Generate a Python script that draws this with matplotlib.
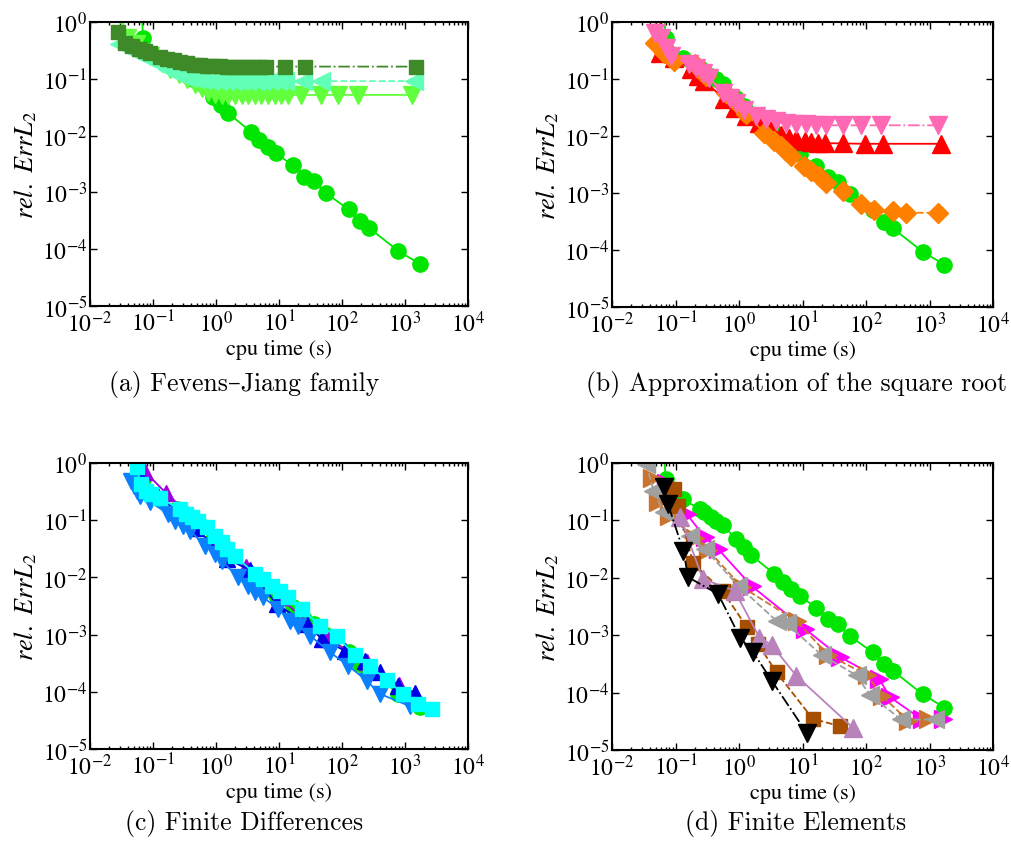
import matplotlib
matplotlib.use("Agg")
import matplotlib.pyplot as plt
from matplotlib.ticker import LogLocator, NullLocator

plt.rcParams["font.family"] = "STIXGeneral"
plt.rcParams["mathtext.fontset"] = "stix"

# ---- data (cpu time in s, relative L2 error) ----
# reference solution (green circles), shown in every panel
ref_t = [0.066, 0.070, 0.130, 0.239, 0.286, 0.365, 0.437, 0.556, 0.90, 1.22, 1.56, 3.62, 4.9,
         6.6, 9.0, 16.4, 25, 36, 55, 128, 195, 265, 785, 1720]
ref_err = [1.5, 0.53, 0.235, 0.158, 0.138, 0.113, 0.099, 0.083, 0.047, 0.034, 0.0248, 0.0116, 0.0083,
           0.0063, 0.0049, 0.0030, 0.0019, 0.00156, 0.00098, 0.0005, 0.00031, 0.00024, 9.3e-5, 5.5e-5]

# (a) Fevens-Jiang family
fj_sq_t = [0.028, 0.0366, 0.047, 0.059, 0.076, 0.091, 0.13, 0.166, 0.212, 0.27, 0.344, 0.44, 0.56,
           0.71, 0.91, 1.16, 1.47, 1.88, 2.39, 3.05, 3.88, 4.95, 6.3, 12.3, 25.4, 1470]
fj_sq_err = [0.667, 0.434, 0.38, 0.33, 0.31, 0.29, 0.246, 0.227, 0.212, 0.198, 0.188, 0.178, 0.173,
             0.169, 0.167, 0.165, 0.164, 0.164, 0.164, 0.164, 0.164, 0.164, 0.164, 0.164, 0.164, 0.164]
fj_lt_t = [0.0287, 0.0413, 0.056, 0.080, 0.123, 0.166, 0.225, 0.287, 0.366, 0.466, 0.59, 0.80, 1.09,
           1.39, 1.88, 2.39, 3.05, 4.13, 5.26, 7.1, 9.6, 12.3, 23.9, 46.6, 1390]
fj_lt_err = [0.405, 0.33, 0.29, 0.236, 0.18, 0.148, 0.129, 0.113, 0.103, 0.098, 0.096, 0.093, 0.092,
             0.091, 0.091, 0.091, 0.091, 0.091, 0.091, 0.091, 0.091, 0.091, 0.091, 0.091, 0.091]
fj_dt_t = [0.030, 0.039, 0.053, 0.091, 0.139, 0.188, 0.254, 0.344, 0.466, 0.59, 0.76, 0.96, 1.23, 1.57,
           2.0, 2.54, 3.24, 4.13, 5.26, 6.7, 8.5, 10.9, 13.9, 22.5, 46.6, 85, 177, 1306]
fj_dt_err = [1.4, 0.53, 0.405, 0.253, 0.193, 0.148, 0.12, 0.098, 0.080, 0.0675, 0.059, 0.0537, 0.052, 0.052,
             0.052, 0.052, 0.052, 0.052, 0.052, 0.052, 0.052, 0.052, 0.052, 0.052, 0.052, 0.052, 0.052, 0.052]

# (b) approximation of the square root
sr_red_t = [0.058, 0.056, 0.096, 0.177, 0.225, 0.286, 0.59, 0.85, 1.3, 2.1, 3.2, 4.6, 6.2, 7.9, 10.8,
            13.7, 17.4, 22.3, 43, 95, 184, 1510]
sr_red_err = [1.5, 0.29, 0.236, 0.148, 0.113, 0.092, 0.044, 0.031, 0.0223, 0.017, 0.013, 0.0106, 0.0093,
              0.0087, 0.0081, 0.0078, 0.0076, 0.0075, 0.0074, 0.0073, 0.0073, 0.0073]
sr_or_t = [0.049, 0.047, 0.067, 0.096, 0.20, 0.239, 0.304, 0.63, 0.80, 1.02, 1.30, 2.52, 3.62, 4.6, 5.5,
           6.6, 10.7, 13.7, 18.5, 23.6, 43, 84, 136, 265, 430, 1350]
sr_or_err = [1.5, 0.43, 0.29, 0.206, 0.18, 0.148, 0.113, 0.057, 0.044, 0.0335, 0.024, 0.0114, 0.0081,
             0.0066, 0.0054, 0.0044, 0.0030, 0.0024, 0.00197, 0.0015, 0.00108, 0.00063, 0.00051,
             0.00048, 0.00045, 0.00045]
sr_pk_t = [0.047, 0.059, 0.071, 0.0855, 0.166, 0.211, 0.27, 0.343, 0.556, 0.71, 0.90, 1.22, 1.86, 2.68,
           3.85, 5.5, 7.9, 11.4, 16.4, 23.6, 43, 84, 174, 1350]
sr_pk_err = [0.65, 0.53, 0.354, 0.253, 0.18, 0.158, 0.129, 0.105, 0.057, 0.047, 0.038, 0.029, 0.0223,
             0.0195, 0.018, 0.017, 0.0164, 0.016, 0.0156, 0.0154, 0.0154, 0.0154, 0.0154, 0.0154]

# (c) finite differences
fd_pu_t = [0.075, 0.16, 0.4, 1.0, 3.0, 10, 59, 250, 800, 1500]
fd_pu_err = [0.7, 0.3, 0.12, 0.045, 0.015, 0.0045, 0.00085, 0.00033, 0.00013, 7e-5]
fd_db_t = [0.062, 0.12, 0.25, 0.49, 1.48, 3.47, 9.2, 27.5, 47.6, 112, 232, 400, 784, 1450]
fd_db_err = [0.6, 0.26, 0.14, 0.072, 0.021, 0.0135, 0.0034, 0.00154, 0.00084, 0.00052, 0.00034,
             0.00022, 0.000128, 9.5e-5]
fd_az_t = [0.044, 0.05, 0.056, 0.063, 0.0896, 0.175, 0.223, 0.303, 0.386, 0.67, 0.96, 1.23, 2.26, 3.26,
           4.16, 5.6, 9.8, 15, 20, 31, 64.6, 126, 247, 400, 1200]
fd_az_err = [0.49, 0.40, 0.33, 0.27, 0.21, 0.129, 0.098, 0.080, 0.066, 0.0358, 0.0257, 0.0196, 0.010,
             0.0072, 0.0055, 0.0045, 0.0028, 0.00175, 0.00143, 0.00096, 0.00049, 0.000286, 0.000156,
             9.2e-5, 5.6e-5]
fd_cy_t = [0.055, 0.064, 0.077, 0.092, 0.129, 0.27, 0.34, 0.41, 0.525, 0.71, 0.96, 1.23, 1.48, 2.0, 4.16,
           5.6, 7.65, 10.4, 14, 22.9, 44.7, 82, 161, 278, 511, 935, 1620, 2640]
fd_cy_err = [0.84, 0.43, 0.33, 0.29, 0.24, 0.157, 0.129, 0.112, 0.098, 0.075, 0.054, 0.041, 0.0315,
             0.024, 0.0115, 0.0094, 0.0072, 0.0059, 0.0045, 0.0028, 0.00143, 0.00093, 0.00044, 0.00028,
             0.000163, 9.2e-5, 6.1e-5, 5.1e-5]

# (d) finite elements
fe_mg_t = [0.07, 0.15, 0.29, 0.47, 1.58, 11, 39, 160, 240, 760, 1660]
fe_mg_err = [0.45, 0.129, 0.051, 0.0316, 0.0072, 0.00128, 0.00042, 0.000175, 8.3e-5, 3.4e-5, 3.4e-5]
fe_pe_t = [0.042, 0.053, 0.08, 0.2, 0.33, 1.1, 8.1, 25, 105, 177, 465, 960]
fe_pe_err = [0.55, 0.21, 0.12, 0.05, 0.03, 0.0070, 0.00175, 0.00046, 0.0002, 8.9e-5, 3.2e-5, 3.4e-5]
fe_gr_t = [0.0345, 0.045, 0.065, 0.169, 0.29, 0.98, 3.9, 5.6, 20, 71, 115, 360, 1230]
fe_gr_err = [0.96, 0.33, 0.138, 0.054, 0.0316, 0.0072, 0.00178, 0.0016, 0.00045, 0.0002, 9e-5, 3.4e-5, 3.4e-5]
fe_br_t = [0.096, 0.109, 0.19, 0.55, 1.32, 2.0, 3.9, 14.5, 39]
fe_br_err = [0.35, 0.18, 0.0178, 0.0059, 0.00140, 0.0007, 0.000224, 3.5e-5, 2.6e-5]
fe_pl_t = [0.118, 0.27, 0.85, 2.1, 3.25, 8.0, 62]
fe_pl_err = [0.115, 0.0095, 0.006, 0.00091, 0.00068, 0.000196, 2.45e-5]
fe_bk_t = [0.067, 0.076, 0.133, 0.159, 0.47, 1.04, 1.68, 3.27, 11.6]
fe_bk_err = [0.38, 0.193, 0.0295, 0.0102, 0.0052, 0.00091, 0.0005, 0.000162, 2.0e-5]

captions = ["(a) Fevens\u2013Jiang family", "(b) Approximation of the square root",
            "(c) Finite Differences", "(d) Finite Elements"]

W, H = 1011, 853
fig = plt.figure(figsize=(W / 100, H / 100), dpi=100)

# axes boxes in pixels: left, top, right, bottom
boxes = [(90, 23, 468, 307), (612, 23, 993, 308), (90, 464, 468, 750), (612, 464, 993, 751)]
axes = []
for (l, t, r, b) in boxes:
    ax = fig.add_axes([l / W, 1 - b / H, (r - l) / W, (b - t) / H])
    axes.append(ax)


def series(ax, t, e, color, marker, ls, ms):
    ax.plot(t, e, color=color, marker=marker, ls=ls, lw=1.3, ms=ms, mec=color, mfc=color)


ax = axes[0]
series(ax, ref_t, ref_err, "#00e600", "o", "-", 11)
series(ax, fj_dt_t, fj_dt_err, "#62ff3c", "v", "-", 12.5)
series(ax, fj_lt_t, fj_lt_err, "#62ffb8", "<", "--", 12.5)
series(ax, fj_sq_t, fj_sq_err, "#3e8a28", "s", "-.", 9.5)

ax = axes[1]
series(ax, ref_t, ref_err, "#00e600", "o", "-", 11)
series(ax, sr_red_t, sr_red_err, "#ff0000", "^", "-", 12.5)
series(ax, sr_or_t, sr_or_err, "#ff8000", "D", "--", 10)
series(ax, sr_pk_t, sr_pk_err, "#ff69b4", "v", "-.", 12.5)

ax = axes[2]
series(ax, ref_t, ref_err, "#00e600", "o", "-", 11)
series(ax, fd_pu_t, fd_pu_err, "#a000e0", "^", "-", 11.5)
series(ax, fd_db_t, fd_db_err, "#0000e6", "^", "-", 11.5)
series(ax, fd_az_t, fd_az_err, "#0a80ff", "v", "-", 11.5)
series(ax, fd_cy_t, fd_cy_err, "#00ffff", "s", "-", 9.5)

ax = axes[3]
series(ax, ref_t, ref_err, "#00e600", "o", "-", 11)
series(ax, fe_mg_t, fe_mg_err, "#ff00ff", ">", "-", 12.5)
series(ax, fe_pe_t, fe_pe_err, "#c8742e", ">", "--", 12.5)
series(ax, fe_gr_t, fe_gr_err, "#a0a0a0", "<", "--", 12.5)
series(ax, fe_br_t, fe_br_err, "#a64f00", "s", "--", 9.5)
series(ax, fe_pl_t, fe_pl_err, "#b883bb", "^", "-", 12.5)
series(ax, fe_bk_t, fe_bk_err, "#000000", "v", "-.", 12.5)

for ax in axes:
    ax.set_xscale("log")
    ax.set_yscale("log")
    ax.set_xlim(1e-2, 1e4)
    ax.set_ylim(1e-5, 1)
    ax.xaxis.set_major_locator(LogLocator(base=10, numticks=10))
    ax.xaxis.set_minor_locator(LogLocator(base=10, subs=range(2, 10), numticks=20))
    ax.yaxis.set_major_locator(LogLocator(base=10, numticks=10))
    ax.yaxis.set_minor_locator(NullLocator())
    ax.tick_params(which="both", direction="in", top=True, right=True, labelsize=17, width=1)
    ax.tick_params(which="major", length=5)
    ax.tick_params(which="minor", length=2.5)
    ax.tick_params(axis="x", pad=3)
    ax.tick_params(axis="y", pad=2)
    for s in ax.spines.values():
        s.set_linewidth(1.5)
    ax.set_xlabel("cpu time (s)", fontsize=16, labelpad=2)
    ax.set_ylabel(r"$rel.\ ErrL_2$", fontsize=19, labelpad=2)

cap_pos = [(244, 385), (796, 385), (244, 824), (796, 824)]
for (cx, cy), txt in zip(cap_pos, captions):
    fig.text(cx / W, 1 - cy / H, txt, ha="center", va="center", fontsize=18.5,
             family=["cmr10", "DejaVu Serif"])

fig.savefig("out.png", dpi=100)
